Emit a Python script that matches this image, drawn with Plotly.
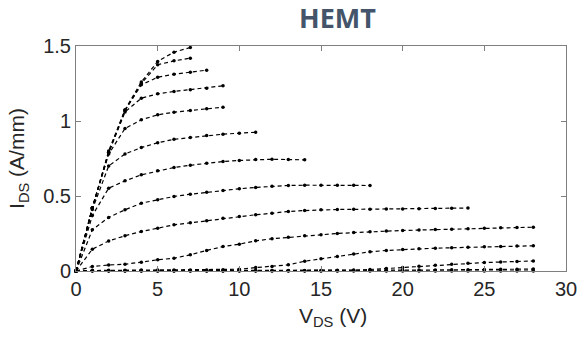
import plotly.graph_objects as go

# Drain voltage grid (V)
vds = [0, 1, 2, 3, 4, 5, 6, 7, 8, 9, 10, 11, 12, 13, 14, 15, 16, 17, 18, 19, 20,
       21, 22, 23, 24, 25, 26, 27, 28]

# Drain current (A/mm) for each gate bias curve, top to bottom
ids_c1 = [0, 0.42, 0.80, 1.075, 1.26, 1.397, 1.459, 1.49]
ids_c2 = [0, 0.42, 0.79, 1.07, 1.25, 1.375, 1.401, 1.419]
ids_c3 = [0, 0.42, 0.79, 1.07, 1.241, 1.292, 1.312, 1.325, 1.339]
ids_c4 = [0, 0.42, 0.79, 1.06, 1.152, 1.181, 1.197, 1.208, 1.219, 1.235]
ids_c5 = [0, 0.42, 0.78, 0.95, 1.008, 1.041, 1.059, 1.07, 1.081, 1.092]
ids_c6 = [0, 0.41, 0.70, 0.78, 0.823, 0.855, 0.878, 0.89, 0.903, 0.912, 0.919, 0.925]
ids_c7 = [0, 0.37, 0.552, 0.601, 0.641, 0.668, 0.69, 0.705, 0.719, 0.73, 0.737,
          0.743, 0.745, 0.743, 0.741]
ids_c8 = [0, 0.275, 0.357, 0.408, 0.452, 0.475, 0.497, 0.512, 0.525, 0.537, 0.548,
          0.557, 0.565, 0.57, 0.572, 0.572, 0.572, 0.571, 0.57]
ids_c9 = [0, 0.145, 0.20, 0.235, 0.263, 0.285, 0.308, 0.321, 0.335, 0.352, 0.363,
          0.375, 0.385, 0.397, 0.403, 0.408, 0.41, 0.411, 0.412, 0.413, 0.414,
          0.415, 0.416, 0.418, 0.42]
ids_c10 = [0, 0.03, 0.04, 0.045, 0.059, 0.075, 0.085, 0.108, 0.137, 0.163, 0.179,
           0.201, 0.215, 0.225, 0.235, 0.241, 0.25, 0.256, 0.262, 0.267, 0.27,
           0.273, 0.276, 0.279, 0.282, 0.285, 0.288, 0.29, 0.292]
ids_c11 = [0, 0.005, 0.005, 0.005, 0.006, 0.006, 0.006, 0.007, 0.007, 0.008, 0.012,
           0.023, 0.03, 0.041, 0.065, 0.081, 0.097, 0.113, 0.128, 0.137, 0.143,
           0.148, 0.152, 0.155, 0.158, 0.161, 0.164, 0.166, 0.168]
ids_c12 = [0, 0.002, 0.002, 0.002, 0.002, 0.002, 0.002, 0.002, 0.002, 0.002, 0.003,
           0.003, 0.003, 0.003, 0.004, 0.004, 0.005, 0.006, 0.01, 0.017, 0.024,
           0.031, 0.038, 0.045, 0.051, 0.056, 0.06, 0.064, 0.067]
ids_c13 = [0, 0.001, 0.001, 0.001, 0.001, 0.001, 0.001, 0.001, 0.001, 0.001, 0.001,
           0.001, 0.002, 0.002, 0.002, 0.002, 0.002, 0.003, 0.003, 0.004, 0.005,
           0.006, 0.007, 0.008, 0.009, 0.01, 0.011, 0.012, 0.013]
ids_c14 = [0, 0, 0, 0, 0, 0, 0, 0, 0, 0, 0, 0, 0, 0, 0, 0, 0, 0, 0, 0, 0,
           0, 0, 0, 0, 0, 0, 0, 0]

curves = [ids_c1, ids_c2, ids_c3, ids_c4, ids_c5, ids_c6, ids_c7, ids_c8,
          ids_c9, ids_c10, ids_c11, ids_c12, ids_c13, ids_c14]

x_ticks = [0, 5, 10, 15, 20, 25, 30]
y_ticks = [0, 0.5, 1, 1.5]
y_ticklabels = ["0", "0.5", "1", "1.5"]

FONT = "Liberation Sans, Arial, sans-serif"

fig = go.Figure()
for ids in curves:
    fig.add_trace(go.Scatter(
        x=vds[:len(ids)], y=ids, mode="lines+markers",
        line=dict(color="black", width=1.2, dash="4px,3px"),
        marker=dict(color="black", size=3.5, symbol="circle"),
        showlegend=False, hoverinfo="skip", cliponaxis=False,
    ))

axis_common = dict(
    showline=True, linecolor="#7f7f7f", linewidth=1, mirror="allticks",
    ticks="inside", ticklen=5, tickcolor="#7f7f7f", tickwidth=1,
    showgrid=False, zeroline=False, automargin=False, ticklabeloverflow="allow",
    tickfont=dict(family=FONT, size=20, color="#262626"),
)

fig.update_layout(
    width=577, height=339,
    margin=dict(l=76, r=11, t=46, b=68),
    paper_bgcolor="white", plot_bgcolor="white",
    xaxis=dict(range=[0, 30], tickvals=x_ticks, ticktext=[str(t) for t in x_ticks],
               **axis_common),
    yaxis=dict(range=[0, 1.5], tickvals=y_ticks, ticktext=y_ticklabels,
               title=dict(text="I<sub>DS</sub> (A/mm)", standoff=12,
                          font=dict(family=FONT, size=21, color="#262626")),
               **axis_common),
    annotations=[
        dict(text="<b>HEMT</b>", xref="paper", yref="paper",
             x=0.533, y=1.127, xanchor="center", yanchor="middle", showarrow=False,
             font=dict(family="Open Sans, Lato, sans-serif", size=27, color="#44546A")),
        dict(text="V<sub>DS</sub> (V)", xref="paper", yref="paper",
             x=0.524, y=-0.205, xanchor="center", yanchor="middle",
             showarrow=False, font=dict(family=FONT, size=21, color="#262626")),
    ],
)

fig.write_html("out.html", config={"displayModeBar": False},
               post_script="document.body.style.margin='0';document.body.style.overflow='hidden';")
